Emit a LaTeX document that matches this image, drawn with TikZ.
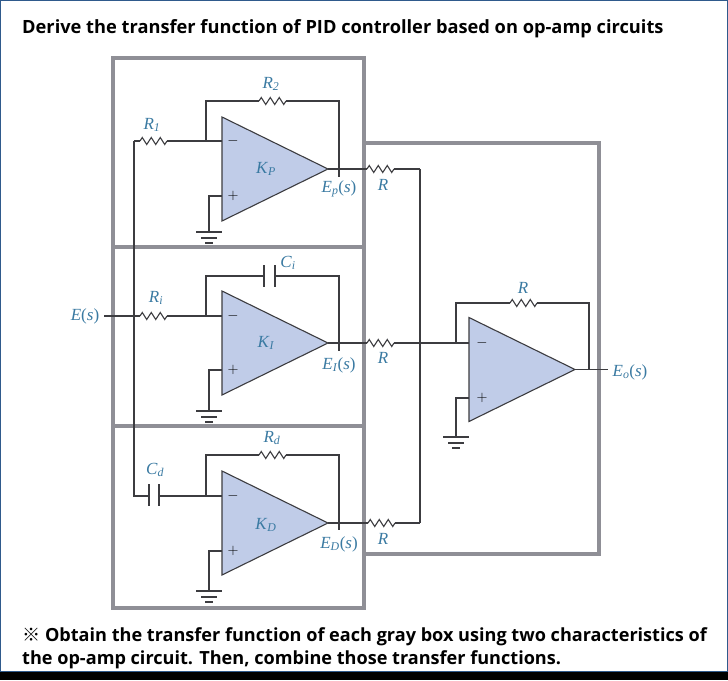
\documentclass[tikz,border=0pt]{standalone}
\usepackage{fontspec}
\usepackage{amsmath}
\setmainfont{Open Sans}
\newfontfamily\cjk{Noto Sans CJK KR}
\newfontfamily\circuitfont{Liberation Serif}
\usetikzlibrary{positioning,shapes.geometric,decorations.pathmorphing}
\definecolor{boxgray}{HTML}{8F8F96}
\definecolor{wirecol}{HTML}{3C3C40}
\definecolor{ampfill}{HTML}{C0CCE8}
\definecolor{labelcol}{HTML}{3A7AA2}
\definecolor{framecol}{HTML}{2F5A8C}
\newcommand{\sym}[2]{\textit{#1}\textsubscript{\textit{#2}}}
\tikzset{
  wire/.style={draw=wirecol,line width=1.1pt},
  graybox/.style={draw=boxgray,line width=4pt},
  opamp/.style={isosceles triangle,isosceles triangle stretches,draw=wirecol,line width=1.1pt,
    fill=ampfill,minimum width=104pt,minimum height=106pt,inner sep=0pt,outer sep=0pt,anchor=apex},
  res/.style={wire,decorate,decoration={zigzag,segment length=9pt,amplitude=3.5pt}},
  lab/.style={text=labelcol,inner sep=0pt,font=\circuitfont\fontsize{17}{17}\selectfont},
  sgn/.style={text=black,inner sep=0pt,font=\fontsize{15}{15}\selectfont},
  head/.style={inner sep=0pt,anchor=west,font=\bfseries\fontsize{18.25}{18.25}\selectfont},
  note/.style={inner sep=0pt,anchor=west,font=\bfseries\fontsize{18.1}{18.1}\selectfont}
}
\begin{document}
\begin{tikzpicture}[x=1pt,y=-1pt]
\useasboundingbox (0,0) rectangle (728,680);
\fill[white] (0,0) rectangle (728,680);
\draw[framecol,line width=1.5pt] (0.7,0.7) rectangle (727.3,672);
\fill[black] (0,672) rectangle (728,680);
\node[head] (title) at (22,28.5) {Derive the transfer function of PID controller based on op-amp circuits};
\node[note] (note1) at (22,637) {{\cjk ※} Obtain the transfer function of each gray box using two characteristics of};
\node[note] (note2) at (22,660) {the op-amp circuit. Then, combine those transfer functions.};
% gray boxes
\draw[graybox] (113,58) rectangle (364,247);
\draw[graybox] (113,247) rectangle (364,426);
\draw[graybox] (113,426) rectangle (364,608);
\draw[graybox] (364,143) -- (599,143) -- (599,554) -- (364,554);
% op-amps
\node[opamp] (ampP) at (328,169) {};
\node[opamp] (ampI) at (328,343) {};
\node[opamp] (ampD) at (328,523) {};
\node[opamp] (ampO) at (575,369.5) {};
\node[lab] (kp) at (266,169) {\sym{K}{P}};
\node[lab] (ki) at (266,343) {\sym{K}{I}};
\node[lab] (kd) at (266,525) {\sym{K}{D}};
\foreach \n/\ym/\yp/\x in {P/141/196/232,I/316/370/232,D/496/551/232,O/343/398/481}{
  \node[sgn] (minus\n) at (\x+1,\ym) {$-$};
  \node[sgn] (plus\n) at (\x+1,\yp) {$+$};
}
% top block
\coordinate (bus) at (134,141);
\coordinate (r1a) at (140,141);
\coordinate (r1b) at (167,141);
\coordinate (jP) at (206,141);
\coordinate (inP) at (222,141);
\coordinate (r2a) at (259,101);
\coordinate (r2b) at (286,101);
\coordinate (stubP) at (339,177);
\coordinate (gndP) at (209,196);
\coordinate (ipP) at (222,196);
\coordinate (botP) at (209,232);
\coordinate (outP) at (367,169);
\coordinate (outPb) at (394,169);
\coordinate (sumP) at (420,169);
\draw[wire] (bus) -- (r1a);
\draw[res] (r1a) -- (r1b);
\draw[wire] (r1b) -- (inP);
\draw[wire] (jP) |- (r2a);
\draw[res] (r2a) -- (r2b);
\draw[wire] (r2b) -| (stubP);
\draw[wire] (ipP) -- (gndP) -- (botP);
\draw[wire] (ampP.apex) -- (outP);
\draw[res] (outP) -- (outPb);
\draw[wire] (outPb) -- (sumP);
% middle block
\coordinate (inE) at (104,316);
\coordinate (riA) at (140,316);
\coordinate (riB) at (167,316);
\coordinate (jI) at (206,316);
\coordinate (inI) at (222,316);
\coordinate (ciA) at (264,276);
\coordinate (ciB) at (275,276);
\coordinate (stubI) at (339,351);
\coordinate (gndI) at (209,370);
\coordinate (ipI) at (222,370);
\coordinate (botI) at (209,411);
\coordinate (outI) at (367,343);
\coordinate (outIb) at (394,343);
\draw[wire] (inE) -- (riA);
\draw[res] (riA) -- (riB);
\draw[wire] (riB) -- (inI);
\draw[wire] (jI) |- (ciA);
\draw[wire] (ciB) -| (stubI);
\draw[wire] (264,265) -- (264,287);
\draw[wire] (275,265) -- (275,287);
\draw[wire] (ipI) -- (gndI) -- (botI);
\draw[wire] (ampI.apex) -- (outI);
\draw[res] (outI) -- (outIb);
% bottom block
\coordinate (busD) at (134,496);
\coordinate (cdA) at (149,496);
\coordinate (cdB) at (159,496);
\coordinate (jD) at (206,496);
\coordinate (inD) at (222,496);
\coordinate (rdA) at (259,455);
\coordinate (rdB) at (286,455);
\coordinate (stubD) at (339,530);
\coordinate (gndD) at (209,551);
\coordinate (ipD) at (222,551);
\coordinate (botD) at (209,591);
\coordinate (outD) at (368,523);
\coordinate (outDb) at (395,523);
\coordinate (sumD) at (420,523);
\draw[wire] (bus) -- (busD) -- (cdA);
\draw[wire] (149,484) -- (149,506);
\draw[wire] (159,484) -- (159,506);
\draw[wire] (cdB) -- (inD);
\draw[wire] (jD) |- (rdA);
\draw[res] (rdA) -- (rdB);
\draw[wire] (rdB) -| (stubD);
\draw[wire] (ipD) -- (gndD) -- (botD);
\draw[wire] (ampD.apex) -- (outD);
\draw[res] (outD) -- (outDb);
\draw[wire] (outDb) -- (sumD);
\draw[wire] (sumP) -- (sumD);
% summing amp
\coordinate (jO) at (456,343);
\coordinate (inO) at (469,343);
\coordinate (rfA) at (510,303);
\coordinate (rfB) at (537,303);
\coordinate (jOut) at (589,369.5);
\coordinate (endO) at (608,369.5);
\coordinate (gndO) at (456,398);
\coordinate (ipO) at (469,398);
\coordinate (botO) at (456,437);
\draw[wire] (outIb) -- (inO);
\draw[wire] (jO) |- (rfA);
\draw[res] (rfA) -- (rfB);
\draw[wire] (rfB) -| (jOut);
\draw[wire] (ipO) -- (gndO) -- (botO);
\draw[wire] (ampO.apex) -- (endO);
% ground bars
\foreach \x/\y in {209/232,209/411,209/591,456/437}{
  \draw[wire] (\x-13,\y) -- (\x+13,\y);
  \draw[wire] (\x-8,\y+6) -- (\x+8,\y+6);
  \draw[wire] (\x-4,\y+11) -- (\x+4,\y+11);
}
% labels
\node[lab] (lr2) at (271,84) {\sym{R}{2}};
\node[lab] (lr1) at (152,125) {\sym{R}{1}};
\node[lab] (lep) at (339,189) {\sym{E}{p}(\textit{s})};
\node[lab] (lrp) at (383,185) {\textit{R}};
\node[lab] (lci) at (288,263) {\sym{C}{i}};
\node[lab] (lri) at (156,298) {\sym{R}{i}};
\node[lab] (les) at (85,316) {\textit{E}(\textit{s})};
\node[lab] (lei) at (339,365) {\sym{E}{I}(\textit{s})};
\node[lab] (lrm) at (383,358) {\textit{R}};
\node[lab] (lrd) at (272,438) {\sym{R}{d}};
\node[lab] (lcd) at (155,470) {\sym{C}{d}};
\node[lab] (led) at (339,544) {\sym{E}{D}(\textit{s})};
\node[lab] (lrb) at (383,539) {\textit{R}};
\node[lab] (lrf) at (523,288) {\textit{R}};
\node[lab] (leo) at (630,372) {\sym{E}{o}(\textit{s})};
\end{tikzpicture}
\end{document}
